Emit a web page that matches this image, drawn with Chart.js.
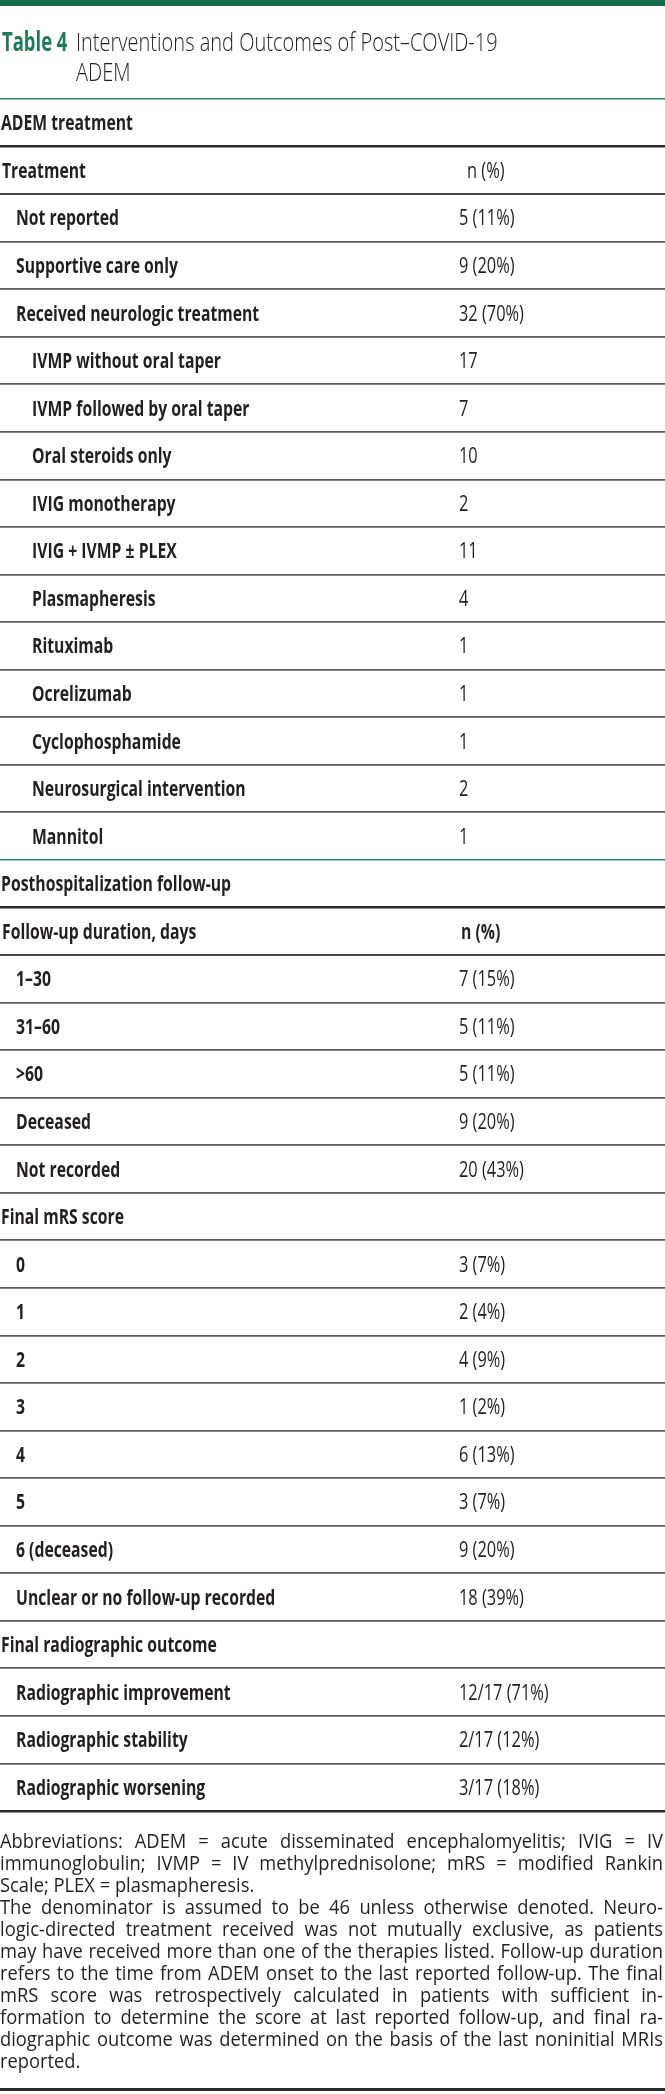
<!DOCTYPE html>
<html>
<head>
<meta charset="utf-8">
<script src="https://cdn.jsdelivr.net/npm/chart.js@4.4.1/dist/chart.umd.min.js"></script>
<style>
  html, body { margin: 0; padding: 0; background: #fff; }
  canvas { display: block; }
</style>
</head>
<body>
<canvas id="table4" width="665" height="2094"></canvas>
<script>
/* Table 4 — Interventions and Outcomes of Post-COVID-19 ADEM */

const treatmentLabels = ['Not reported', 'Supportive care only', 'Received neurologic treatment'];
const treatmentCounts = [5, 9, 32];
const treatmentPct = [11, 20, 70];

const therapyLabels = ['IVMP without oral taper', 'IVMP followed by oral taper', 'Oral steroids only',
  'IVIG monotherapy', 'IVIG + IVMP ± PLEX', 'Plasmapheresis', 'Rituximab', 'Ocrelizumab',
  'Cyclophosphamide', 'Neurosurgical intervention', 'Mannitol'];
const therapyCounts = [17, 7, 10, 2, 11, 4, 1, 1, 1, 2, 1];

const followUpLabels = ['1–30', '31–60', '>60', 'Deceased', 'Not recorded'];
const followUpCounts = [7, 5, 5, 9, 20];
const followUpPct = [15, 11, 11, 20, 43];

const mrsLabels = ['0', '1', '2', '3', '4', '5', '6 (deceased)', 'Unclear or no follow-up recorded'];
const mrsCounts = [3, 2, 4, 1, 6, 3, 9, 18];
const mrsPct = [7, 4, 9, 2, 13, 7, 20, 39];

const radioLabels = ['Radiographic improvement', 'Radiographic stability', 'Radiographic worsening'];
const radioCounts = [12, 2, 3];
const radioDenom = 17;
const radioPct = [71, 12, 18];

const footnoteLines = [
  ['Abbreviations: ADEM = acute disseminated encephalomyelitis; IVIG = IV', true],
  ['immunoglobulin; IVMP = IV methylprednisolone; mRS = modified Rankin', true],
  ['Scale; PLEX = plasmapheresis.', false],
  ['The denominator is assumed to be 46 unless otherwise denoted. Neuro-', true],
  ['logic-directed treatment received was not mutually exclusive, as patients', true],
  ['may have received more than one of the therapies listed. Follow-up duration', true],
  ['refers to the time from ADEM onset to the last reported follow-up. The final', true],
  ['mRS score was retrospectively calculated in patients with sufficient in-', true],
  ['formation to determine the score at last reported follow-up, and final ra-', true],
  ['diographic outcome was determined on the basis of the last noninitial MRIs', true],
  ['reported.', false]
];

// build the row table
const pct = (n, p) => `${n} (${p}%)`;
const rows = [];
rows.push({ kind: 'section', label: 'ADEM treatment', value: '' });
rows.push({ kind: 'colhead', label: 'Treatment', value: 'n (%)' });
treatmentLabels.forEach((l, i) => rows.push({ kind: 'item', label: l, value: pct(treatmentCounts[i], treatmentPct[i]) }));
therapyLabels.forEach((l, i) => rows.push({ kind: 'subitem', label: l, value: String(therapyCounts[i]) }));
rows.push({ kind: 'section', label: 'Posthospitalization follow-up', value: '' });
rows.push({ kind: 'colhead2', label: 'Follow-up duration, days', value: 'n (%)' });
followUpLabels.forEach((l, i) => rows.push({ kind: 'item', label: l, value: pct(followUpCounts[i], followUpPct[i]) }));
rows.push({ kind: 'group', label: 'Final mRS score', value: '' });
mrsLabels.forEach((l, i) => rows.push({ kind: 'item', label: l, value: pct(mrsCounts[i], mrsPct[i]) }));
rows.push({ kind: 'group', label: 'Final radiographic outcome', value: '' });
radioLabels.forEach((l, i) => rows.push({ kind: 'item', label: l, value: `${radioCounts[i]}/${radioDenom} (${radioPct[i]}%)` }));

const GREEN = '#1f7a55';
const INK = '#231f20';
const FONT = '"Open Sans", "DejaVu Sans", sans-serif';
const SQUEEZE = 0.75;   // the journal face is a condensed Open Sans

function lineStyle(c) {
  const i = c.index === undefined ? rows.length : c.index;
  if (i === rows.length) return { color: '#2a2a2a', width: 2.5 };
  if (rows[i].kind === 'section') return { color: '#2f8a63', width: 1.5 };
  const prev = rows[i - 1];
  if (prev && prev.kind === 'section') return { color: '#2a2a2a', width: 2.5 };
  if (prev && prev.kind.startsWith('colhead')) return { color: '#474747', width: 2 };
  return { color: '#5c5c5c', width: 1.8 };
}

function squeezed(ctx, text, x, y, font, color, sx) {
  ctx.save();
  ctx.font = font;
  ctx.fillStyle = color;
  ctx.translate(x, y);
  ctx.scale(sx, 1);
  ctx.fillText(text, 0, 0);
  ctx.restore();
}

function justified(ctx, text, x, y, width, font, sx) {
  ctx.save();
  ctx.font = font;
  ctx.fillStyle = INK;
  const words = text.split(' ');
  const ws = words.map(w => ctx.measureText(w).width * sx);
  const total = ws.reduce((a, b) => a + b, 0);
  let gap = (width - total) / (words.length - 1);
  let k = 1;
  if (gap < 3) { gap = 3; k = (width - gap * (words.length - 1)) / total; }
  let cx = x;
  words.forEach((w, i) => {
    ctx.save();
    ctx.translate(cx, y);
    ctx.scale(sx * k, 1);
    ctx.fillText(w, 0, 0);
    ctx.restore();
    cx += ws[i] * k + gap;
  });
  ctx.restore();
}

const tableText = {
  id: 'tableText',
  afterDraw(chart) {
    const ctx = chart.ctx;
    const y = chart.scales.y;
    ctx.save();
    ctx.textBaseline = 'alphabetic';

    // top rule and title
    ctx.fillStyle = '#1c6b4b';
    ctx.fillRect(0, 0, chart.width, 6);
    squeezed(ctx, 'Table 4', 2, 51, `bold 26px ${FONT}`, GREEN, 0.71);
    squeezed(ctx, 'Interventions and Outcomes of Post–COVID-19', 76, 51, `300 26px ${FONT}`, INK, 0.77);
    squeezed(ctx, 'ADEM', 76, 81, `300 26px ${FONT}`, INK, 0.77);

    // rows
    const bold = `bold 21px ${FONT}`;
    const reg = `21px ${FONT}`;
    rows.forEach((r, i) => {
      const cy = y.getPixelForValue(i) + 7.5;
      let lx = 16;
      if (r.kind === 'section' || r.kind === 'group') lx = 1;
      else if (r.kind.startsWith('colhead')) lx = 2;
      else if (r.kind === 'subitem') lx = 32;
      squeezed(ctx, r.label, lx, cy, bold, INK, SQUEEZE);
      if (r.value) {
        if (r.kind === 'colhead') squeezed(ctx, r.value, 467, cy, reg, INK, 0.78);
        else if (r.kind === 'colhead2') squeezed(ctx, r.value, 461, cy, bold, INK, SQUEEZE);
        else squeezed(ctx, r.value, 459, cy, reg, INK, 0.78);
      }
    });

    // footnote
    const fnFont = `19.5px ${FONT}`;
    footnoteLines.forEach(([t, just], i) => {
      const by = 1848 + i * 22;
      if (just) justified(ctx, t, 0, by, 663, fnFont, 0.94);
      else squeezed(ctx, t, 0, by, fnFont, INK, 0.94);
    });

    ctx.fillStyle = '#2a2a2a';
    ctx.fillRect(0, 2088, chart.width, 3);
    ctx.restore();
  }
};

new Chart(document.getElementById('table4'), {
  type: 'bar',
  data: {
    labels: rows.map(r => r.label),
    datasets: [{ data: rows.map(() => 0), backgroundColor: 'rgba(0,0,0,0)' }]
  },
  options: {
    indexAxis: 'y',
    responsive: false,
    animation: false,
    devicePixelRatio: 1,
    layout: { padding: { top: 99, bottom: 283, left: 0, right: 0 } },
    plugins: { legend: { display: false }, tooltip: { enabled: false } },
    scales: {
      x: { display: false },
      y: {
        afterFit: s => { s.width = 0; },
        ticks: { display: false },
        border: { display: false },
        grid: {
          offset: true,
          drawTicks: false,
          color: c => lineStyle(c).color,
          lineWidth: c => lineStyle(c).width
        }
      }
    }
  },
  plugins: [tableText]
});
</script>
</body>
</html>
